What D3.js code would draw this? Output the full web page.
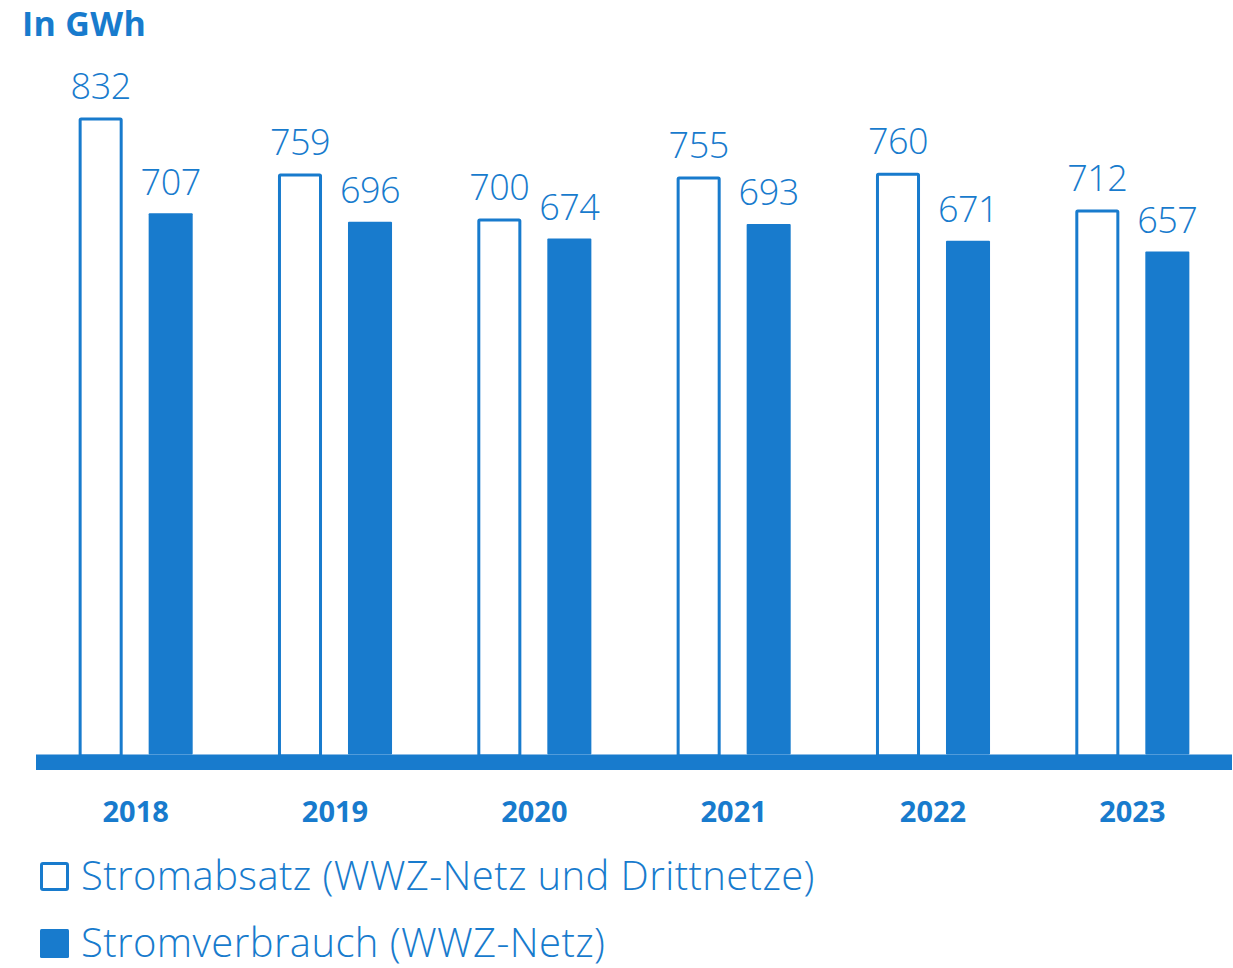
<!DOCTYPE html>
<html>
<head>
<meta charset="utf-8">
<script src="https://cdn.jsdelivr.net/npm/d3@7"></script>
<style>
  body { margin: 0; background: #fff; }
  text { font-family: "Segoe UI", "Open Sans", sans-serif; }
</style>
</head>
<body>
<div id="main"></div>
<script>
// values in GWh
var years = ["2018", "2019", "2020", "2021", "2022", "2023"];
var absatz = [832, 759, 700, 755, 760, 712];      // Stromabsatz (outlined)
var verbrauch = [707, 696, 674, 693, 671, 657];   // Stromverbrauch (filled)
var seriesNames = ["Stromabsatz (WWZ-Netz und Drittnetze)", "Stromverbrauch (WWZ-Netz)"];

var width = 1233, height = 968;
var blue = "#187bcd";

var svg = d3.select("#main")
  .append("svg")
  .attr("width", width)
  .attr("height", height);

var x0 = d3.scaleBand()
  .domain(years)
  .range([36, 1232])
  .padding(0);

var x1 = d3.scaleBand()
  .domain(["absatz", "verbrauch"])
  .range([0, x0.bandwidth()])
  .paddingInner(0.371)
  .paddingOuter(0.609);

var y = d3.scaleLinear()
  .domain([0, 900])
  .range([754.5, 65.5]);

var rows = years.map((yr, i) => ({year: yr, absatz: absatz[i], verbrauch: verbrauch[i]}));

// title
svg.append("text")
  .attr("x", 22)
  .attr("y", 36)
  .attr("fill", blue)
  .attr("font-size", 34)
  .attr("font-weight", 700)
  .attr("letter-spacing", 0.3)
  .text("In GWh");

var groups = svg.append("g")
  .selectAll("g")
  .data(rows)
  .join("g")
  .attr("transform", d => "translate(" + x0(d.year) + ",0)");

// outlined bars
var sw = 3;
groups.append("rect")
  .attr("x", x1("absatz") + sw / 2)
  .attr("width", x1.bandwidth() - sw)
  .attr("y", d => y(d.absatz) + sw / 2)
  .attr("height", d => y(0) - y(d.absatz))
  .attr("rx", 1)
  .attr("fill", "#fff")
  .attr("stroke", blue)
  .attr("stroke-width", sw);

// filled bars
groups.append("rect")
  .attr("x", x1("verbrauch"))
  .attr("width", x1.bandwidth())
  .attr("y", d => y(d.verbrauch))
  .attr("height", d => y(0) - y(d.verbrauch))
  .attr("rx", 1)
  .attr("fill", blue);

// value labels
groups.append("text")
  .attr("x", x1("absatz") + x1.bandwidth() / 2)
  .attr("y", d => y(d.absatz) - 18.5)
  .attr("text-anchor", "middle")
  .attr("fill", blue)
  .attr("font-size", 36)
  .attr("font-weight", 300)
  .attr("letter-spacing", -0.5)
  .text(d => d.absatz);

groups.append("text")
  .attr("x", x1("verbrauch") + x1.bandwidth() / 2)
  .attr("y", d => y(d.verbrauch) - 18.5)
  .attr("text-anchor", "middle")
  .attr("fill", blue)
  .attr("font-size", 36)
  .attr("font-weight", 300)
  .attr("letter-spacing", -0.5)
  .text(d => d.verbrauch);

// base band
svg.append("rect")
  .attr("x", x0.range()[0])
  .attr("width", x0.range()[1] - x0.range()[0])
  .attr("y", y(0))
  .attr("height", 15.5)
  .attr("fill", blue);

// year axis
var axis = svg.append("g")
  .attr("transform", "translate(0," + 770 + ")")
  .call(d3.axisBottom(x0).tickSize(0).tickPadding(0));
axis.select(".domain").remove();
axis.selectAll("text")
  .attr("y", 0)
  .attr("dy", 0)
  .attr("transform", "translate(0,52)")
  .attr("fill", blue)
  .attr("font-size", 29)
  .attr("font-weight", 700)
  .style("font-family", "'Segoe UI', 'Open Sans', sans-serif");

// legend
var legend = svg.append("g")
  .selectAll("g")
  .data(seriesNames)
  .join("g")
  .attr("transform", (d, i) => "translate(40," + (862 + i * 67) + ")");

legend.append("rect")
  .attr("x", (d, i) => i === 0 ? 1.5 : 0)
  .attr("y", (d, i) => i === 0 ? 1.5 : 0)
  .attr("width", (d, i) => i === 0 ? 26 : 29)
  .attr("height", (d, i) => i === 0 ? 26 : 29)
  .attr("rx", 1.5)
  .attr("fill", (d, i) => i === 0 ? "#fff" : blue)
  .attr("stroke", (d, i) => i === 0 ? blue : "none")
  .attr("stroke-width", 3);

legend.append("text")
  .attr("x", 41)
  .attr("y", 27.5)
  .attr("fill", blue)
  .attr("font-size", 40)
  .attr("font-weight", 300)
  .attr("letter-spacing", 0.4)
  .text(d => d);
</script>
</body>
</html>
